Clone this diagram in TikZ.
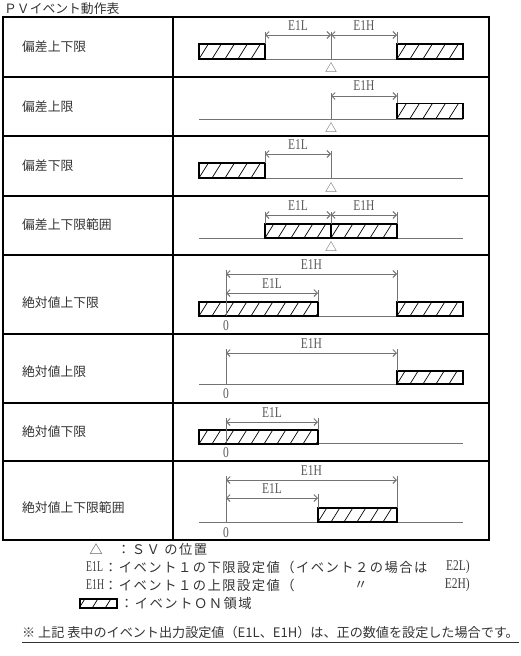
\documentclass[tikz,border=0pt]{standalone}
\usepackage{fontspec}
\setmainfont{Liberation Serif}
\newfontfamily\jp{Noto Sans CJK JP}
\newfontfamily\jpsp[LetterSpace=11]{Noto Sans CJK JP}
\newcommand\tallt[1]{\scalebox{1}[1.3]{#1}}
\newcommand\talln[1]{\scalebox{0.85}[1.3]{#1}}
\usetikzlibrary{arrows.meta}
\begin{document}
\begin{tikzpicture}[x=1pt,y=-1pt,
  tbl/.style={line width=1.7pt,black},
  base/.style={line width=0.9pt,color=black!55},
  ext/.style={line width=0.9pt,color=black!55},
  dim/.style={line width=0.9pt,color=black!55,{Straight Barb[length=3.5pt,width=7pt]}-{Straight Barb[length=3.5pt,width=7pt]}},
  dimlbl/.style={font=\fontsize{11.5}{12}\selectfont,text=black!65,inner sep=0pt},
  zerolbl/.style={font=\fontsize{11.5}{12}\selectfont,text=black!65,inner sep=0pt},
  trilbl/.style={font=\jp\fontsize{12}{12}\selectfont,text=black!65,inner sep=0pt},
  lbl/.style={font=\jp\fontsize{12.8}{14}\selectfont,text=black!80,anchor=west,inner sep=0pt},
  leg/.style={font=\jpsp\fontsize{13.3}{14}\selectfont,text=black!80,anchor=west,inner sep=0pt},
  latlbl/.style={font=\fontsize{11.5}{14}\selectfont,text=black!75,anchor=west,inner sep=0pt},
  hbar/.style={draw=black,line width=1.9pt,inner sep=0pt,
    path picture={\foreach \s in {-26,-13,...,200}{\draw[line width=0.7pt]
      ([xshift=\s pt]path picture bounding box.south west) -- ++(10pt,16pt);}}},
]
\useasboundingbox (0,0) rectangle (520,656);
% title
\node[lbl] (title) at (4,9) {ＰＶイベント動作表};
% table
\draw[tbl] (3,17) rectangle (489,540);
\draw[tbl] (173,17) -- (173,540);
\foreach \y in {77,136,196,255,334,403,461} \draw[tbl] (3,\y) -- (489,\y);
% row labels
\node[lbl] (r1) at (22,47) {偏差上下限};
\node[lbl] (r2) at (22,107) {偏差上限};
\node[lbl] (r3) at (22,166) {偏差下限};
\node[lbl] (r4) at (22,225) {偏差上下限範囲};
\node[lbl] (r5) at (22,303) {絶対値上下限};
\node[lbl] (r6) at (22,372) {絶対値上限};
\node[lbl] (r7) at (22,432) {絶対値下限};
\node[lbl] (r8) at (22,508) {絶対値上下限範囲};

% ---- row 1
\draw[base] (199,59) -- (463,59);
\node[hbar,minimum width=66pt,minimum height=15pt] (b1a) at (232,51.5) {};
\node[hbar,minimum width=66pt,minimum height=15pt] (b1b) at (430,51.5) {};
\draw[ext] (265,32) -- (265,44);
\draw[ext] (331,32) -- (331,59);
\draw[ext] (397,32) -- (397,44);
\draw[dim] (265,35) -- (331,35);
\draw[dim] (331,35) -- (397,35);
\node[dimlbl] (l1a) at (298,26) {\tallt{E1L}};
\node[dimlbl] (l1b) at (364,26) {\tallt{E1H}};
\node[trilbl] (t1) at (331,68) {△};

% ---- row 2
\draw[base] (199,119) -- (463,119);
\node[hbar,minimum width=66pt,minimum height=15pt] (b2) at (430,111) {};
\draw[ext] (331,93) -- (331,119);
\draw[ext] (397,93) -- (397,103);
\draw[dim] (331,96) -- (397,96);
\node[dimlbl] (l2) at (364,86) {\tallt{E1H}};
\node[trilbl] (t2) at (331,128) {△};

% ---- row 3
\draw[base] (199,178) -- (463,178);
\node[hbar,minimum width=66pt,minimum height=15pt] (b3) at (232,170.5) {};
\draw[ext] (265,151) -- (265,163);
\draw[ext] (331,151) -- (331,178);
\draw[dim] (265,154) -- (331,154);
\node[dimlbl] (l3) at (298,145) {\tallt{E1L}};
\node[trilbl] (t3) at (331,188) {△};

% ---- row 4
\draw[base] (199,238) -- (463,238);
\node[hbar,minimum width=66pt,minimum height=14pt] (b4a) at (298,231) {};
\node[hbar,minimum width=66pt,minimum height=14pt] (b4b) at (364,231) {};
\draw[ext] (265,212) -- (265,224);
\draw[ext] (331,212) -- (331,224);
\draw[ext] (397,212) -- (397,224);
\draw[dim] (265,215) -- (331,215);
\draw[dim] (331,215) -- (397,215);
\node[dimlbl] (l4a) at (298,206) {\tallt{E1L}};
\node[dimlbl] (l4b) at (364,206) {\tallt{E1H}};
\node[trilbl] (t4) at (331,247) {△};

% ---- row 5
\draw[base] (199,316) -- (463,316);
\node[hbar,minimum width=119pt,minimum height=14pt] (b5a) at (258.5,309) {};
\node[hbar,minimum width=66pt,minimum height=14pt] (b5b) at (430,309) {};
\draw[ext] (226,270) -- (226,316);
\draw[ext] (318,290) -- (318,302);
\draw[ext] (397,270) -- (397,302);
\draw[dim] (226,274) -- (397,274);
\draw[dim] (226,293) -- (318,293);
\node[dimlbl] (l5a) at (311.5,265) {\tallt{E1H}};
\node[dimlbl] (l5b) at (272,284) {\tallt{E1L}};
\node[zerolbl] (z5) at (226,326) {\tallt{0}};

% ---- row 6
\draw[base] (199,384) -- (463,384);
\node[hbar,minimum width=66pt,minimum height=13pt] (b6) at (430,377.5) {};
\draw[ext] (226,349) -- (226,384);
\draw[ext] (397,349) -- (397,371);
\draw[dim] (226,353) -- (397,353);
\node[dimlbl] (l6) at (311.5,344) {\tallt{E1H}};
\node[zerolbl] (z6) at (226,394) {\tallt{0}};

% ---- row 7
\draw[base] (199,443) -- (463,443);
\node[hbar,minimum width=119pt,minimum height=14pt] (b7) at (258.5,437) {};
\draw[ext] (226,418) -- (226,443);
\draw[ext] (318,418) -- (318,430);
\draw[dim] (226,422) -- (318,422);
\node[dimlbl] (l7) at (272,413) {\tallt{E1L}};
\node[zerolbl] (z7) at (226,453) {\tallt{0}};

% ---- row 8
\draw[base] (199,522) -- (463,522);
\node[hbar,minimum width=79pt,minimum height=14pt] (b8) at (357.5,515) {};
\draw[ext] (226,476) -- (226,522);
\draw[ext] (318,494) -- (318,508);
\draw[ext] (397,476) -- (397,508);
\draw[dim] (226,480) -- (397,480);
\draw[dim] (226,498) -- (318,498);
\node[dimlbl] (l8a) at (311.5,471) {\tallt{E1H}};
\node[dimlbl] (l8b) at (272,489) {\tallt{E1L}};
\node[zerolbl] (z8) at (226,533) {\tallt{0}};

% ---- legend
\node[trilbl,font=\jp\fontsize{13}{14}\selectfont,text=black!80] (lgtri) at (96,549) {△};
\node[leg] (lgsv) at (117,549) {：ＳＶ の位置};
\node[latlbl] (lge1l) at (86,567) {\talln{E1L}};
\node[leg] (lge1ltxt) at (104,567) {：イベント１の下限設定値（イベント２の場合は};
\node[latlbl,anchor=east] (lge2l) at (470,567) {\tallt{E2L)}};
\node[latlbl] (lge1h) at (86,585) {\talln{E1H}};
\node[leg] (lge1htxt) at (104,585) {：イベント１の上限設定値（};
\node[leg] (ditto) at (354,585) {〃};
\node[latlbl,anchor=east] (lge2h) at (470,585) {\tallt{E2H)}};
\node[hbar,minimum width=37pt,minimum height=9pt,line width=2pt] (lgbox) at (98,603) {};
\node[leg] (lgon) at (120,603) {：イベントＯＮ領域};
\node[lbl,font=\jp\fontsize{13.1}{14}\selectfont] (note) at (22,633) {※ 上記 表中のイベント出力設定値（E1L、E1H）は、正の数値を設定した場合です。};
\draw[line width=0.8pt,black!80] (22,642) -- (note.east |- 0,642);
\end{tikzpicture}
\end{document}
